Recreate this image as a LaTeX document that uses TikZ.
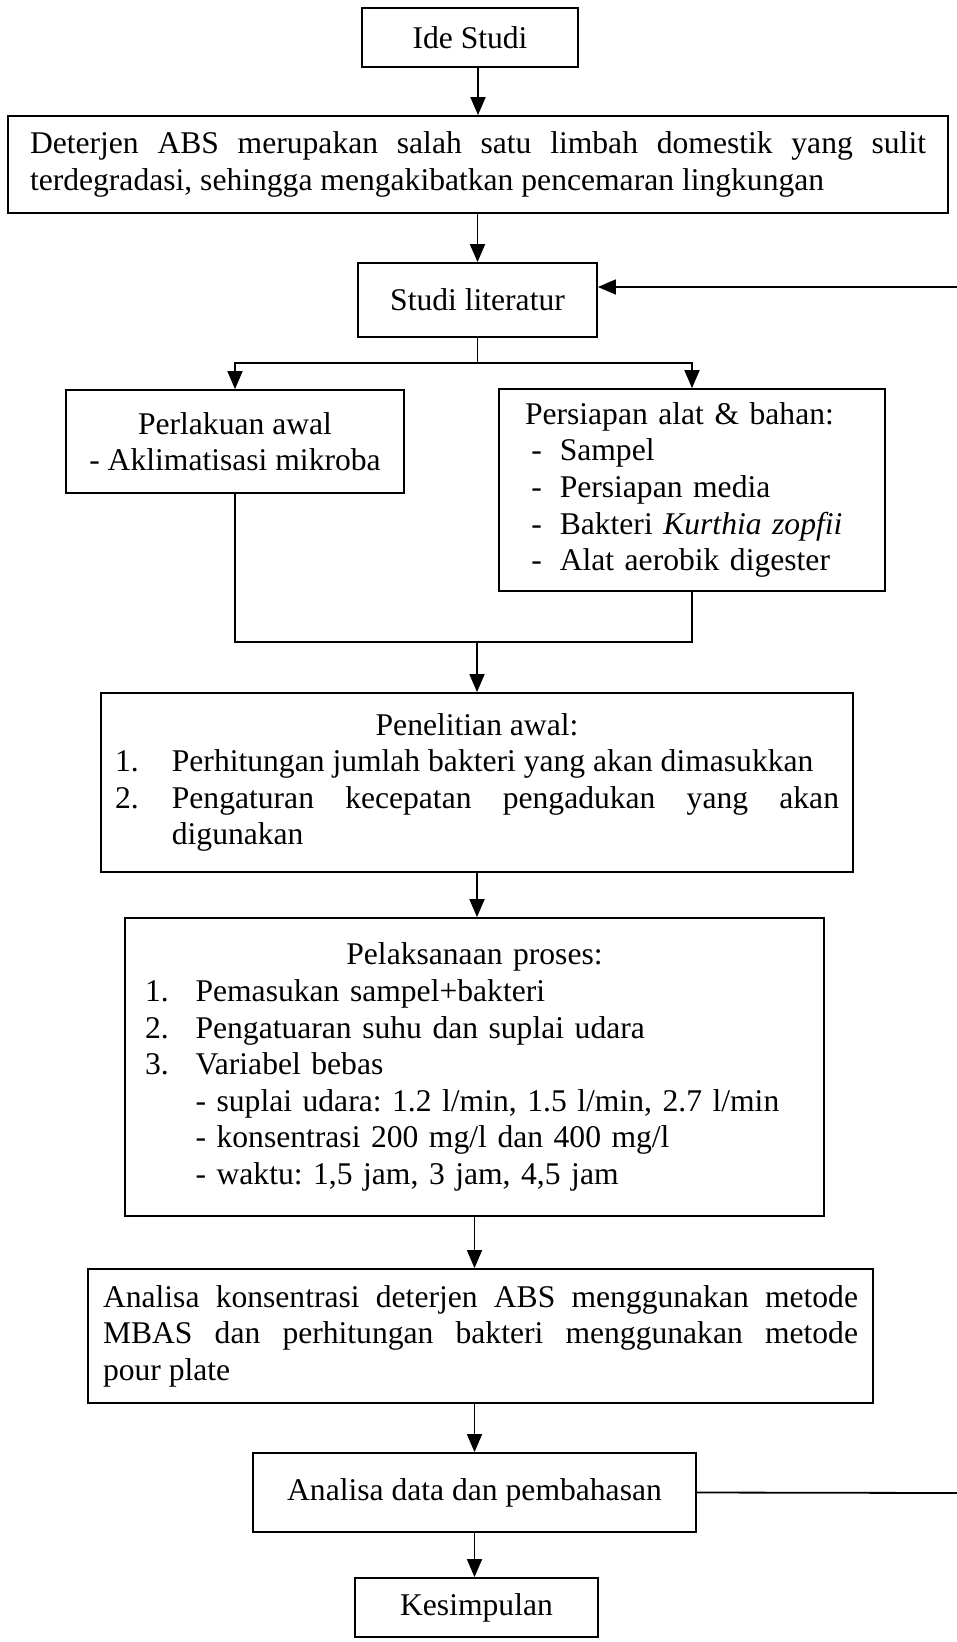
\documentclass[tikz,border=0pt]{standalone}
\usepackage{fontspec}
\setmainfont{Liberation Serif}
\usetikzlibrary{arrows.meta}
\hyphenpenalty=10000
\exhyphenpenalty=10000
\frenchspacing
\newcommand{\listnum}[2][1.8em]{\par\hangindent=#1\hangafter=1\noindent\makebox[#1][l]{#2}}
\newcommand{\dashline}{\par\noindent\makebox[1.1em][l]{\hspace{0.2em}-}}
\tikzset{
    flowbox/.style={draw, line width=0.9pt, inner sep=5pt, font=\fontsize{15.8}{18.3}\selectfont},
    arr/.style={line width=0.9pt, -{Triangle[length=9pt,width=7.5pt]}},
    link/.style={line width=0.9pt}
}
\begin{document}
\begin{tikzpicture}[x=0.5pt, y=-0.5pt]
    % Page frame
    \useasboundingbox (0,0) rectangle (957,1642);

    % Idea and problem
    \node[flowbox, minimum width=108pt, minimum height=29.5pt] (ide) at (470,37.5) {Ide Studi};
    \node[flowbox, minimum width=470pt, minimum height=48.5pt, text width=448pt, align=justify] (deterjen) at (478,164.5)
        {Deterjen ABS merupakan salah satu limbah domestik yang sulit\linebreak terdegradasi, sehingga mengakibatkan pencemaran lingkungan};
    \node[flowbox, minimum width=119.5pt, minimum height=37pt] (studi) at (477.5,300) {Studi literatur};

    % Two branches
    \node[flowbox, minimum width=169pt, minimum height=51.5pt, align=center] (perlakuan) at (235,441.5)
        {Perlakuan awal\\- Aklimatisasi mikroba};
    \node[flowbox, minimum width=193pt, minimum height=101pt, text width=167pt, align=left] (persiapan) at (692,490)
        {Persiapan alat \& bahan:
         \dashline Sampel
         \dashline Persiapan media
         \dashline Bakteri \textit{Kurthia zopfii}
         \dashline Alat aerobik digester\par};

    % Research steps
    \node[flowbox, minimum width=376pt, minimum height=89.5pt, text width=362pt, align=justify] (penelitian) at (477,782.5)
        {{\centering Penelitian awal:\par}
         \listnum{1.}Perhitungan jumlah bakteri yang akan dimasukkan
         \listnum{2.}Pengaturan kecepatan pengadukan yang akan\linebreak digunakan\par};
    \node[flowbox, minimum width=349.5pt, minimum height=149pt, text width=329.5pt, align=left] (pelaksanaan) at (474.5,1067)
        {{\centering Pelaksanaan proses:\par}
         \listnum[1.6em]{1.}Pemasukan sampel+bakteri
         \listnum[1.6em]{2.}Pengatuaran suhu dan suplai udara
         \listnum[1.6em]{3.}Variabel bebas
         \par\noindent\hspace*{1.6em}- suplai udara: 1.2 l/min, 1.5 l/min, 2.7 l/min
         \par\noindent\hspace*{1.6em}- konsentrasi 200 mg/l dan 400 mg/l
         \par\noindent\hspace*{1.6em}- waktu: 1,5 jam, 3 jam, 4,5 jam\par};
    \node[flowbox, minimum width=392.5pt, minimum height=67pt, text width=377.5pt, align=justify] (analisa) at (480.5,1336)
        {Analisa konsentrasi deterjen ABS menggunakan metode\linebreak MBAS dan perhitungan bakteri menggunakan metode\linebreak pour plate};
    \node[flowbox, minimum width=221.5pt, minimum height=39.5pt] (data) at (474.5,1492.5) {Analisa data dan pembahasan};
    \node[flowbox, minimum width=121.5pt, minimum height=29.5pt] (kesimpulan) at (476.5,1607.5) {Kesimpulan};

    % Connectors
    \coordinate (split) at (477.5,363);
    \coordinate (join) at (477,642);
    \draw[arr] (deterjen.north |- ide.south) -- (deterjen.north);
    \draw[arr] (deterjen.south -| studi) -- (studi.north);
    \draw[link] (studi.south) -- (split);
    \draw[arr] (split) -| (perlakuan.north);
    \draw[arr] (split) -| (persiapan.north);
    \draw[link] (perlakuan.south) |- (join) -| (persiapan.south);
    \draw[arr] (join) -- (penelitian.north);
    \draw[arr] (penelitian.south) -- (penelitian.south |- pelaksanaan.north);
    \draw[arr] (pelaksanaan.south) -- (pelaksanaan.south |- analisa.north);
    \draw[arr] (data.north |- analisa.south) -- (data.north);
    \draw[arr] (data.south) -- (data.south |- kesimpulan.north);

    % Feedback to literature study
    \coordinate (fbin) at (957,287);
    \coordinate (fbout) at (957,1493);
    \draw[link] (data.east) -- (fbout);
    \draw[arr] (fbin) -- (studi.east |- fbin);
\end{tikzpicture}
\end{document}
